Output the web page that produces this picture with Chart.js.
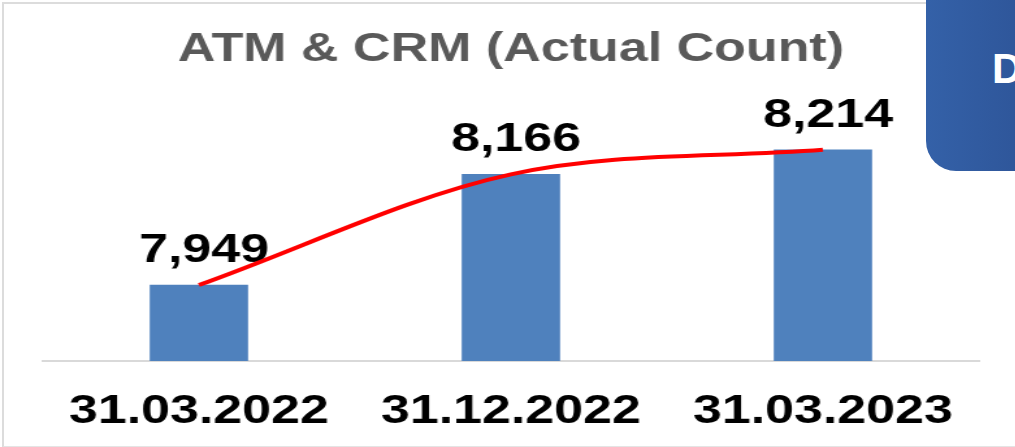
<!DOCTYPE html>
<html>
<head>
<meta charset="utf-8">
<script src="https://cdn.jsdelivr.net/npm/chart.js@4"></script>
<style>
  html, body { margin: 0; padding: 0; background: #fff; overflow: hidden; }
  body { width: 1015px; height: 447px; position: relative; }
  #frame {
    position: absolute; left: 2px; top: 2px; width: 1030px; height: 442px;
    border-left: 2px solid #dcdcdc; border-top: 2px solid #dcdcdc; border-bottom: 2px solid #e4e4e4;
  }
  #wrap {
    position: absolute; left: 0; top: 0; width: 781px; height: 447px;
    transform: scaleX(1.3); transform-origin: 0 0;
  }
  #sideBox {
    position: absolute; left: 926px; top: -20px; width: 120px; height: 191px;
    border-bottom-left-radius: 30px;
    background: linear-gradient(90deg, #3461a8, #2d5396);
    color: #fff; font: bold 42px 'Liberation Sans', Arial, sans-serif;
  }
  #sideBox span { position: absolute; left: 66px; top: 65px; }
</style>
</head>
<body>
<div id="frame"></div>
<div id="wrap"><canvas id="barChart" width="781" height="447"></canvas></div>
<div id="sideBox"><span>D</span></div>
<script>
var categories = ['31.03.2022', '31.12.2022', '31.03.2023'];
var atmCrmCount = [7949, 8166, 8214];
var trendCount = [7949, 8166, 8214];

Chart.defaults.font.family = "'Liberation Sans', Arial, sans-serif";

var valueLabels = {
    id: 'valueLabels',
    afterDatasetDraw: function (chart, args) {
        if (args.index !== 0) return;
        var ctx = chart.ctx;
        ctx.save();
        ctx.fillStyle = '#000';
        ctx.font = "bold 40px 'Liberation Sans', Arial, sans-serif";
        ctx.textAlign = 'center';
        ctx.textBaseline = 'alphabetic';
        args.meta.data.forEach(function (bar, i) {
            ctx.fillText(atmCrmCount[i].toLocaleString('en-US'), bar.x + 4, bar.y - 23);
        });
        ctx.restore();
    }
};

var ctx = document.getElementById('barChart');
var myChart = new Chart(ctx, {
    type: 'bar',
    data: {
        labels: categories,
        datasets: [{
            type: 'bar',
            data: atmCrmCount,
            backgroundColor: '#4f81bd',
            barThickness: 75,
            order: 1
        }, {
            type: 'line',
            data: trendCount,
            borderColor: '#ff0000',
            borderWidth: 4,
            cubicInterpolationMode: 'monotone',
            pointRadius: 0,
            fill: false,
            order: 0
        }]
    },
    options: {
        responsive: false,
        animation: false,
        devicePixelRatio: 1,
        layout: { padding: { left: 33, right: 28, bottom: 12 } },
        plugins: {
            legend: { display: false },
            tooltip: { enabled: false },
            title: {
                display: true,
                text: 'ATM & CRM (Actual Count)',
                color: '#595959',
                font: { size: 40, weight: 'bold' },
                padding: { top: 26, bottom: 32 }
            }
        },
        scales: {
            x: {
                grid: { display: false, drawTicks: false },
                border: { display: true, color: '#d9d9d9', width: 2 },
                ticks: {
                    color: '#000',
                    padding: 27,
                    font: { size: 40, weight: 'bold' }
                },
                afterFit: function (scale) {
                    scale.height = 74;
                }
            },
            y: {
                display: false,
                min: 7800,
                max: 8300
            }
        }
    },
    plugins: [valueLabels]
});
</script>
</body>
</html>
